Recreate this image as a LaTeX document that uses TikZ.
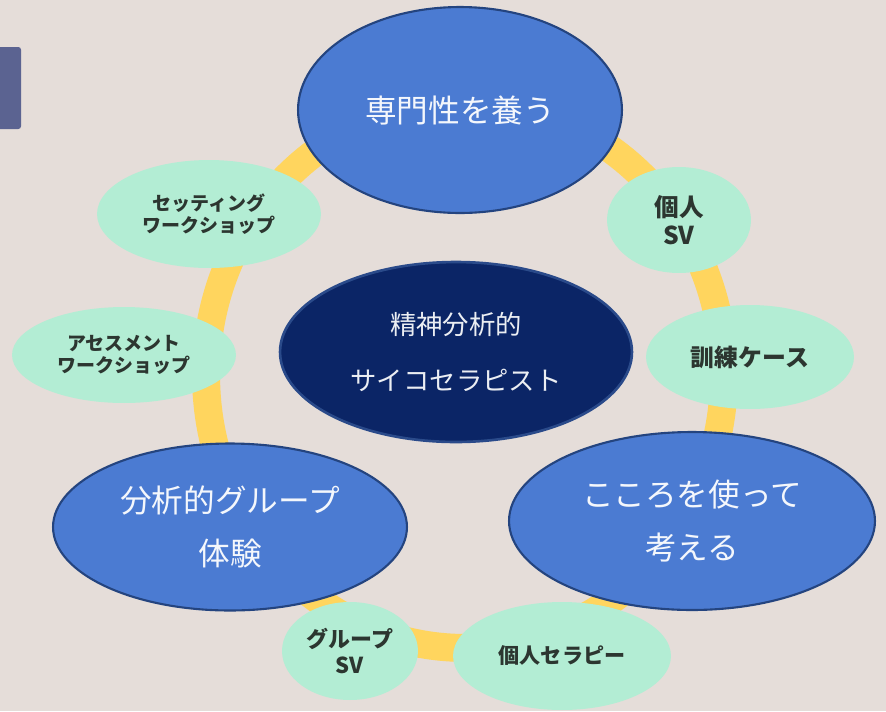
\documentclass[tikz,border=0pt]{standalone}
\usepackage{fontspec}
\newfontfamily\jpfont{Noto Sans CJK JP}
\usetikzlibrary{positioning, calc, shapes}
\definecolor{bgcol}{HTML}{E5DDD9}
\definecolor{tabcol}{HTML}{5B6391}
\definecolor{ringcol}{HTML}{FFD55E}
\definecolor{stageblue}{HTML}{4B7BD2}
\definecolor{stageedge}{HTML}{24447F}
\definecolor{corefill}{HTML}{0B2566}
\definecolor{coreedge}{HTML}{2A4A8A}
\definecolor{mint}{HTML}{B3EDD4}
\definecolor{darktext}{HTML}{2C3630}
\tikzset{stage/.style={ellipse, fill=stageblue, draw=stageedge, line width=1.2pt, text=white!94!stageblue, inner sep=0pt, align=center, font=\jpfont\fontsize{18}{30.5}\selectfont}}
\tikzset{core/.style={ellipse, fill=corefill, draw=coreedge, line width=1.5pt, text=white!92!corefill, inner sep=0pt, align=center, font=\jpfont\fontsize{15}{32}\selectfont}}
\tikzset{practice/.style={ellipse, fill=mint, inner sep=0pt, align=center, text=darktext, font=\jpfont\bfseries\fontsize{10.8}{12.5}\selectfont}}
\begin{document}
\begin{tikzpicture}[x=0.02cm, y=-0.02cm]
      \fill[bgcol] (0,0) rectangle (886,711);
      \useasboundingbox (0,0) rectangle (886,711);
      \fill[tabcol, rounded corners=1.5pt] (-6,47) rectangle (21,129);

      \draw[ringcol, line width=0.56cm] (465,375) ellipse [x radius=5.18cm, y radius=5.46cm];

      \node[core, minimum width=7.04cm, minimum height=3.6cm] (therapist) at (456,352) {精神分析的\\サイコセラピスト};

      \node[stage, minimum width=6.48cm, minimum height=4.12cm] (expertise) at (460,110) {専門性を養う};
      \node[stage, minimum width=7.08cm, minimum height=3.34cm] (groupexp) at (230,527) {分析的グループ\\体験};
      \node[stage, minimum width=7.32cm, minimum height=3.56cm] (mindthink) at (692,521) {こころを使って\\考える};

      \node[practice, minimum width=4.48cm, minimum height=2.16cm] (settingws) at (209,214) {セッティング\\ワークショップ};
      \node[practice, minimum width=4.48cm, minimum height=1.92cm] (assessws) at (124,355) {アセスメント\\ワークショップ};
      \node[practice, minimum width=2.88cm, minimum height=2.12cm, font=\jpfont\bfseries\fontsize{14}{16}\selectfont] (indivsv) at (679,220) {個人\\SV};
      \node[practice, minimum width=4.16cm, minimum height=2.08cm, font=\jpfont\bfseries\fontsize{13.6}{16}\selectfont] (trainingcase) at (750,357) {訓練ケース};
      \node[practice, minimum width=2.72cm, minimum height=1.96cm, font=\jpfont\bfseries\fontsize{12.5}{14.8}\selectfont] (groupsv) at (350,651) {グループ\\SV};
      \node[practice, minimum width=4.36cm, minimum height=2.16cm, font=\jpfont\bfseries\fontsize{12}{14}\selectfont] (indivtherapy) at (562,656) {個人セラピー};
\end{tikzpicture}
\end{document}
